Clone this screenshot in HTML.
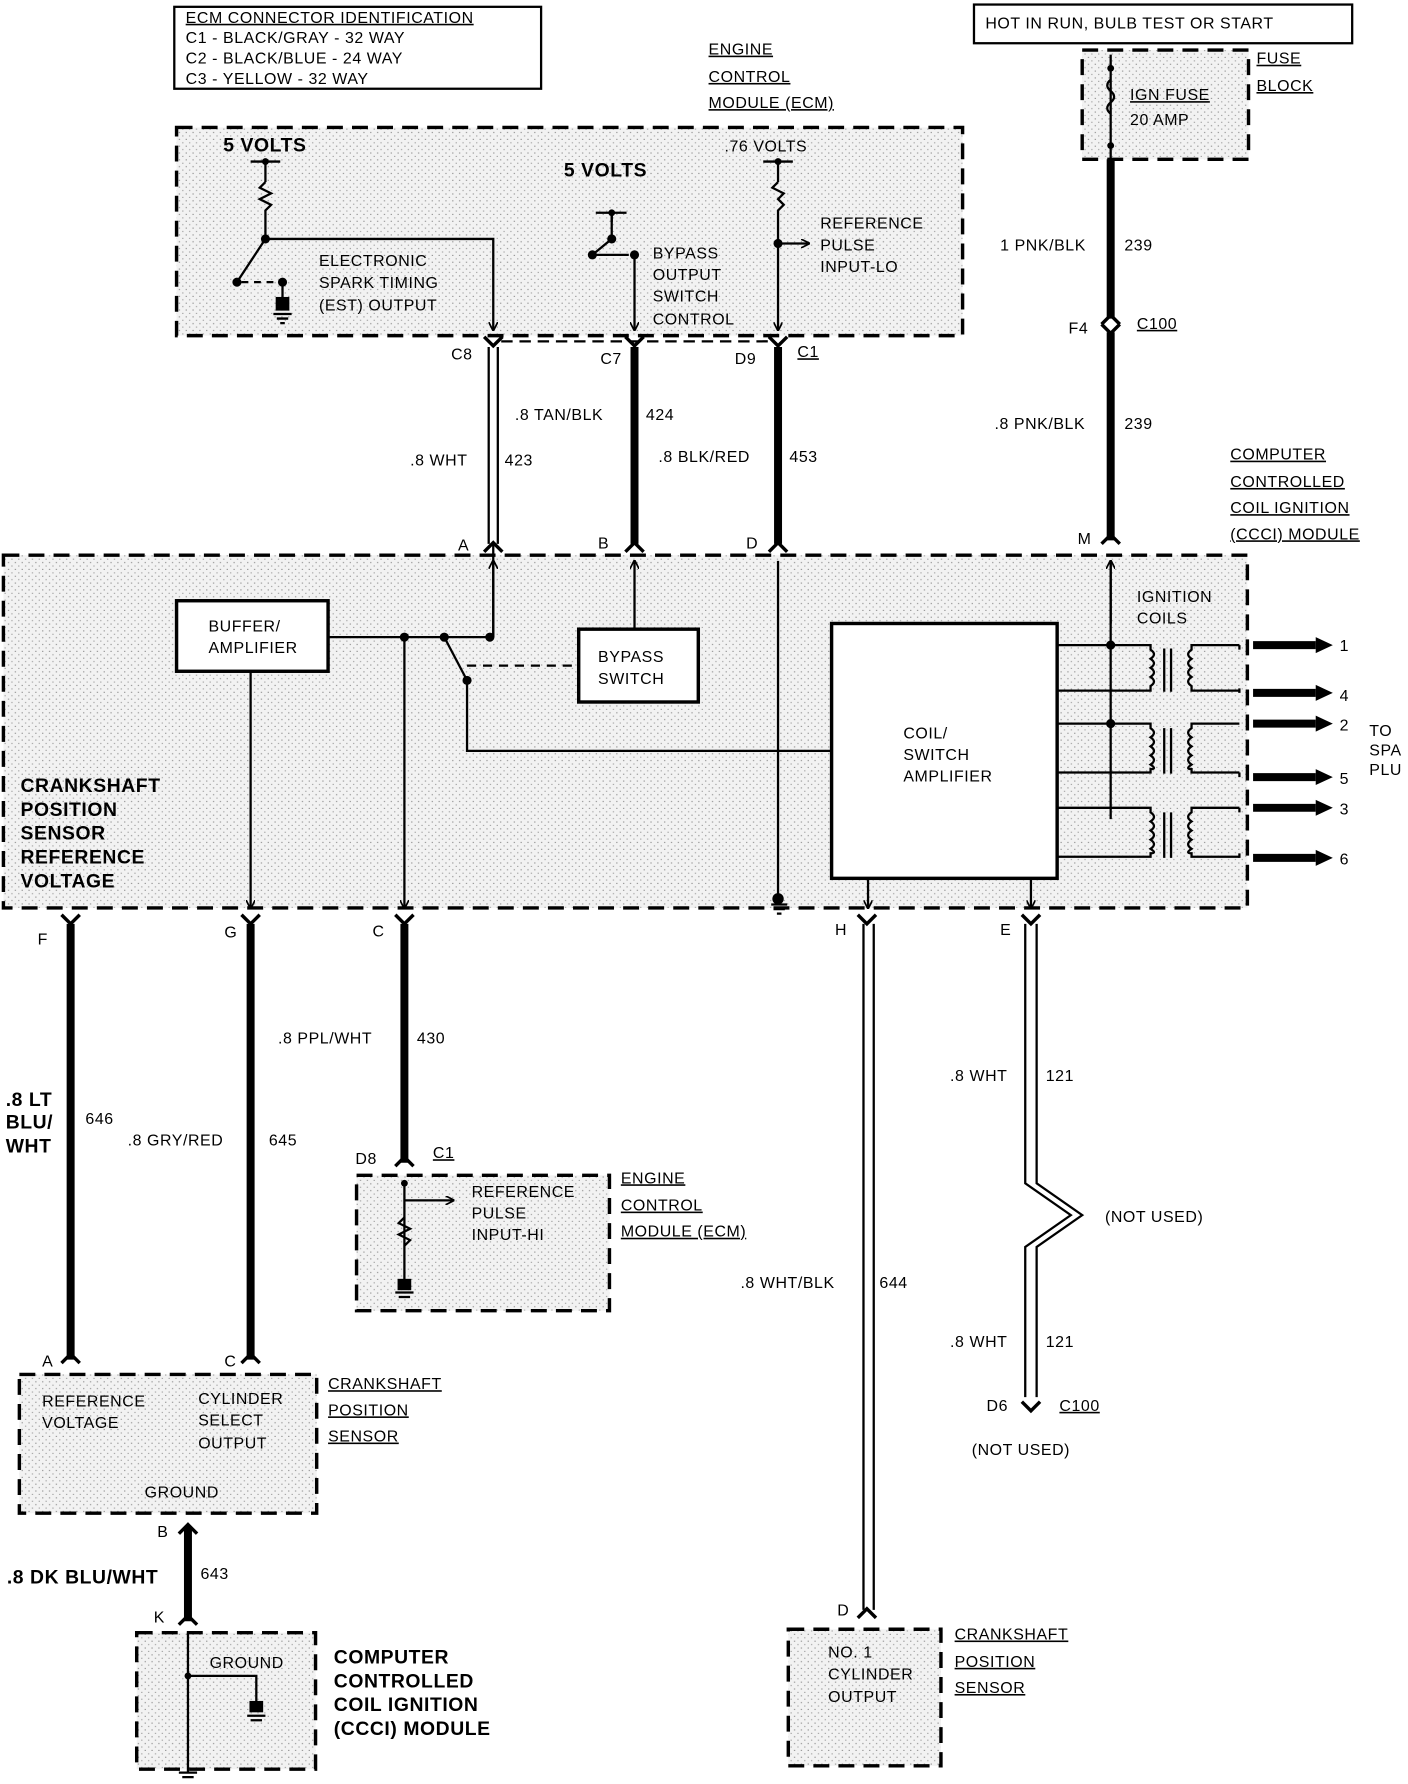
<!DOCTYPE html>
<html><head><meta charset="utf-8"><style>
html,body{margin:0;padding:0;background:#fff}
svg{display:block}
text{font-family:"Liberation Sans",sans-serif;font-size:14px;fill:#000;letter-spacing:0.5px}
.b{font-weight:bold;font-size:17px}
</style></head><body>
<svg width="1408" height="1784" viewBox="0 0 1236 1568" preserveAspectRatio="none" xmlns="http://www.w3.org/2000/svg">
<defs>
<pattern id="dots" width="6" height="6" patternUnits="userSpaceOnUse"><rect width="6" height="6" fill="#f2f2f2"/><rect x="1" y="2" width="1" height="1" fill="#888"/><rect x="4" y="5" width="1" height="1" fill="#999"/></pattern>
<marker id="ar" markerWidth="8" markerHeight="8" refX="7" refY="4" orient="auto" markerUnits="userSpaceOnUse" viewBox="0 0 8 8"><path d="M0,0 L8,4 L0,8" fill="none" stroke="#000" stroke-width="1.5"/></marker>
</defs>
<g stroke="#000" fill="none" stroke-width="2">
<rect x="153" y="6" width="322" height="72"/>
<rect x="855" y="4" width="332" height="34"/>
<rect x="155" y="112" width="690" height="183" fill="url(#dots)" stroke-dasharray="14,8" stroke-width="3"/>
<rect x="950" y="44" width="146" height="96" fill="url(#dots)" stroke-dasharray="14,8" stroke-width="3"/>
<rect x="3" y="488" width="1092" height="310" fill="url(#dots)" stroke-dasharray="14,8" stroke-width="3"/>
<rect x="313" y="1033" width="222" height="119" fill="url(#dots)" stroke-dasharray="14,8" stroke-width="3"/>
<rect x="17" y="1208" width="261" height="122" fill="url(#dots)" stroke-dasharray="14,8" stroke-width="3"/>
<rect x="120" y="1435" width="157" height="120" fill="url(#dots)" stroke-dasharray="14,8" stroke-width="3"/>
<rect x="692" y="1432" width="134" height="120" fill="url(#dots)" stroke-dasharray="14,8" stroke-width="3"/>
<rect x="155" y="528" width="133" height="62" fill="#fff" stroke-width="3"/>
<rect x="508" y="553" width="105" height="64" fill="#fff" stroke-width="3"/>
<rect x="730" y="548" width="198" height="224" fill="#fff" stroke-width="3"/>
<line x1="975" y1="48" x2="975" y2="140"/>
<path d="M975,70 q-6,5 0,10 q6,5 0,10 q-6,5 0,10"/>
<g stroke-width="7">
<line x1="975" y1="140" x2="975" y2="280"/><line x1="975" y1="292" x2="975" y2="475"/>
<line x1="557" y1="305" x2="557" y2="478"/>
<line x1="683" y1="305" x2="683" y2="478"/>
<line x1="62" y1="812" x2="62" y2="1195"/>
<line x1="220" y1="812" x2="220" y2="1195"/>
<line x1="355" y1="812" x2="355" y2="1022"/>
<line x1="165" y1="1342" x2="165" y2="1425"/>
</g>
<g stroke-width="2">
<line x1="429" y1="305" x2="429" y2="478"/><line x1="437" y1="305" x2="437" y2="478"/>
<line x1="758" y1="812" x2="758" y2="1415"/><line x1="767" y1="812" x2="767" y2="1415"/>
<path d="M900,812 V1040 L940,1068 L900,1096 V1228 M910,812 V1040 L950,1068 L910,1096 V1228"/>
</g>
<g stroke-width="3">
<path d="M425,296 l8,8 l8,-8 M425,485 l8,-8 l8,8 M549,296 l8,8 l8,-8 M549,485 l8,-8 l8,8 M675,296 l8,8 l8,-8 M675,485 l8,-8 l8,8 M967,285 l8,-8 l8,8 M967,285 l8,8 l8,-8 M967,478 l8,-8 l8,8"/>
<path d="M54,804 l8,8 l8,-8 M212,804 l8,8 l8,-8 M347,804 l8,8 l8,-8 M753,804 l8,8 l8,-8 M897,804 l8,8 l8,-8"/>
<path d="M54,1198 l8,-8 l8,8 M212,1198 l8,-8 l8,8 M347,1025 l8,-8 l8,8 M157,1348 l8,-8 l8,8 M157,1428 l8,-8 l8,8 M753,1422 l8,-8 l8,8 M897,1232 l8,8 l8,-8"/>
</g>
<line x1="440" y1="300" x2="675" y2="300" stroke-dasharray="10,6"/>
<line x1="220" y1="142" x2="246" y2="142"/><line x1="233" y1="142" x2="233" y2="160"/>
<path d="M233,160 l-5,5 l10,5 l-10,5 l10,5 l-5,5 V210"/>
<path d="M233,210 L208,248 M233,210 H433 V290" marker-end="url(#ar)"/>
<path d="M212,248 h30" stroke-dasharray="6,5"/><line x1="248" y1="248" x2="248" y2="272"/>
<rect x="243" y="262" width="10" height="10" fill="#000"/><path d="M240,276 h16 M243,280 h10 M246,284 h4"/>
<line x1="523" y1="187" x2="550" y2="187"/><line x1="537" y1="187" x2="537" y2="195"/>
<path d="M537,185 L537,210 L520,224 M522,224 h30" />
<path d="M557,226 V290" marker-end="url(#ar)"/>
<line x1="670" y1="142" x2="696" y2="142"/><line x1="683" y1="142" x2="683" y2="160"/>
<path d="M683,160 l-5,5 l10,5 l-5,5 l5,5 l-5,5 V290" marker-end="url(#ar)"/>
<path d="M683,214 H710" marker-end="url(#ar)"/>
<path d="M288,560 H390 M390,560 L430,560 M433,478 V560" />
<path d="M390,560 L410,598"/>
<path d="M410,585 H508" stroke-dasharray="8,6"/>
<path d="M557,553 V493" marker-end="url(#ar)"/>
<path d="M433,560 V493" marker-end="url(#ar)"/>
<path d="M683,493 V790"/>
<path d="M410,598 V660 H730"/>
<path d="M355,560 V798" marker-end="url(#ar)"/>
<path d="M220,590 V798" marker-end="url(#ar)"/>
<path d="M762,772 V798" marker-end="url(#ar)"/>
<path d="M905,772 V798" marker-end="url(#ar)"/>
<path d="M975,493 V720"/>
<path d="M975,548 V493" marker-end="url(#ar)"/>
<g>
<path d="M928,567 H1010 v4 q6,4 0,8 q6,4 0,8 q6,4 0,8 q6,4 0,8 v4 H928"/>
<path d="M928,636 H1010 v4 q6,4 0,8 q6,4 0,8 q6,4 0,8 q6,4 0,8 q6,4 0,4 v3 H928"/>
<path d="M928,710 H1010 v4 q6,4 0,8 q6,4 0,8 q6,4 0,8 q6,4 0,8 q6,4 0,4 v3 H928"/>
<path d="M1022,570 v38 M1028,570 v38 M1022,640 v40 M1028,640 v40 M1022,714 v40 M1028,714 v40"/>
<path d="M1088,567 H1046 v4 q-6,4 0,8 q-6,4 0,8 q-6,4 0,8 q-6,4 0,8 v4 H1088"/>
<path d="M1088,636 H1046 v4 q-6,4 0,8 q-6,4 0,8 q-6,4 0,8 q-6,4 0,8 q-6,4 0,4 v3 H1088"/>
<path d="M1088,710 H1046 v4 q-6,4 0,8 q-6,4 0,8 q-6,4 0,8 q-6,4 0,8 q-6,4 0,4 v3 H1088"/>
</g>
<path d="M1088,567 v4 M1088,609 v-4 M1088,683 v-4 M1088,710 v4 M1088,754 v-4"/>
<g stroke-width="7">
<line x1="1100" y1="567" x2="1155" y2="567"/><line x1="1100" y1="609" x2="1155" y2="609"/>
<line x1="1100" y1="636" x2="1155" y2="636"/><line x1="1100" y1="683" x2="1155" y2="683"/>
<line x1="1100" y1="710" x2="1155" y2="710"/><line x1="1100" y1="754" x2="1155" y2="754"/>
</g>
<path d="M355,1040 V1125"/><path d="M355,1055 H398" marker-end="url(#ar)"/>
<path d="M355,1070 l-5,5 l10,5 l-10,5 l10,5 l-5,5"/>
<rect x="350" y="1125" width="10" height="8" fill="#000"/><path d="M347,1136 h16 M350,1140 h10"/>
<path d="M165,1435 V1558 M165,1473 H225 V1498"/>
<rect x="220" y="1496" width="10" height="8" fill="#000"/><path d="M217,1508 h16 M220,1512 h10"/>
<path d="M157,1558 h16 M160,1562 h10"/>
<path d="M677,795 h14 M679,799 h10 M682,803 h4"/>
</g>
<g fill="#000">
<circle cx="233" cy="142" r="3"/><circle cx="233" cy="210" r="4"/><circle cx="208" cy="248" r="4"/><circle cx="248" cy="248" r="4"/>
<circle cx="537" cy="187" r="3"/><circle cx="520" cy="224" r="4"/><circle cx="557" cy="224" r="4"/><circle cx="537" cy="210" r="4"/>
<circle cx="683" cy="142" r="3"/><circle cx="683" cy="214" r="4"/>
<circle cx="355" cy="560" r="4"/><circle cx="390" cy="560" r="4"/><circle cx="430" cy="560" r="4"/><circle cx="410" cy="598" r="4"/>
<circle cx="975" cy="567" r="4"/><circle cx="975" cy="636" r="4"/><circle cx="683" cy="790" r="5"/>
<circle cx="975" cy="60" r="3"/><circle cx="975" cy="128" r="3"/>
<circle cx="355" cy="1040" r="3"/><circle cx="165" cy="1473" r="3"/>
<path d="M1155,560 l15,7 l-15,7z M1155,602 l15,7 l-15,7z M1155,629 l15,7 l-15,7z M1155,676 l15,7 l-15,7z M1155,703 l15,7 l-15,7z M1155,747 l15,7 l-15,7z"/>
</g>
<text x="163" y="20" text-decoration="underline">ECM CONNECTOR IDENTIFICATION</text>
<text x="163" y="38">C1 - BLACK/GRAY - 32 WAY</text>
<text x="163" y="56">C2 - BLACK/BLUE - 24 WAY</text>
<text x="163" y="74">C3 - YELLOW - 32 WAY</text>
<text x="622" y="48" text-decoration="underline">ENGINE</text>
<text x="622" y="72" text-decoration="underline">CONTROL</text>
<text x="622" y="95" text-decoration="underline">MODULE (ECM)</text>
<text x="865" y="25">HOT IN RUN, BULB TEST OR START</text>
<text x="1103" y="56" text-decoration="underline">FUSE</text>
<text x="1103" y="80" text-decoration="underline">BLOCK</text>
<text x="992" y="88" text-decoration="underline">IGN FUSE</text>
<text x="992" y="110">20 AMP</text>
<text class="b" x="196" y="133">5 VOLTS</text>
<text class="b" x="495" y="155">5 VOLTS</text>
<text x="636" y="133">.76 VOLTS</text>
<text x="280" y="234">ELECTRONIC</text><text x="280" y="253">SPARK TIMING</text><text x="280" y="273">(EST) OUTPUT</text>
<text x="573" y="227">BYPASS</text><text x="573" y="246">OUTPUT</text><text x="573" y="265">SWITCH</text><text x="573" y="285">CONTROL</text>
<text x="720" y="201">REFERENCE</text><text x="720" y="220">PULSE</text><text x="720" y="239">INPUT-LO</text>
<text x="396" y="316">C8</text><text x="527" y="320">C7</text><text x="645" y="320">D9</text><text x="700" y="314" text-decoration="underline">C1</text>
<text x="878" y="220">1 PNK/BLK</text><text x="987" y="220">239</text>
<text x="938" y="293">F4</text><text x="998" y="289" text-decoration="underline">C100</text>
<text x="873" y="377">.8 PNK/BLK</text><text x="987" y="377">239</text>
<text x="452" y="369">.8 TAN/BLK</text><text x="567" y="369">424</text>
<text x="360" y="409">.8 WHT</text><text x="443" y="409">423</text>
<text x="578" y="406">.8 BLK/RED</text><text x="693" y="406">453</text>
<text x="1080" y="404" text-decoration="underline">COMPUTER</text>
<text x="1080" y="428" text-decoration="underline">CONTROLLED</text>
<text x="1080" y="451" text-decoration="underline">COIL IGNITION</text>
<text x="1080" y="474" text-decoration="underline">(CCCI) MODULE</text>
<text x="402" y="484">A</text><text x="525" y="482">B</text><text x="655" y="482">D</text><text x="946" y="478">M</text>
<text x="183" y="555">BUFFER/</text><text x="183" y="574">AMPLIFIER</text>
<text x="525" y="582">BYPASS</text><text x="525" y="601">SWITCH</text>
<text x="998" y="529">IGNITION</text><text x="998" y="548">COILS</text>
<text x="793" y="649">COIL/</text><text x="793" y="668">SWITCH</text><text x="793" y="687">AMPLIFIER</text>
<text x="1176" y="572">1</text><text x="1176" y="616">4</text><text x="1176" y="642">2</text><text x="1176" y="689">5</text><text x="1176" y="716">3</text><text x="1176" y="760">6</text>
<text x="1202" y="647">TO</text><text x="1202" y="664">SPA</text><text x="1202" y="681">PLU</text>
<text class="b" x="18" y="696">CRANKSHAFT</text><text class="b" x="18" y="717">POSITION</text><text class="b" x="18" y="738">SENSOR</text><text class="b" x="18" y="759">REFERENCE</text><text class="b" x="18" y="780">VOLTAGE</text>
<text x="33" y="830">F</text><text x="197" y="824">G</text><text x="327" y="823">C</text><text x="733" y="822">H</text><text x="878" y="822">E</text>
<text x="244" y="917">.8 PPL/WHT</text><text x="366" y="917">430</text>
<text x="834" y="950">.8 WHT</text><text x="918" y="950">121</text>
<text class="b" x="5" y="972">.8 LT</text><text class="b" x="5" y="992">BLU/</text><text class="b" x="5" y="1013">WHT</text>
<text x="75" y="988">646</text>
<text x="112" y="1007">.8 GRY/RED</text><text x="236" y="1007">645</text>
<text x="312" y="1023">D8</text><text x="380" y="1018" text-decoration="underline">C1</text>
<text x="414" y="1052">REFERENCE</text><text x="414" y="1071">PULSE</text><text x="414" y="1090">INPUT-HI</text>
<text x="545" y="1040" text-decoration="underline">ENGINE</text><text x="545" y="1064" text-decoration="underline">CONTROL</text><text x="545" y="1087" text-decoration="underline">MODULE (ECM)</text>
<text x="970" y="1074">(NOT USED)</text>
<text x="650" y="1132">.8 WHT/BLK</text><text x="772" y="1132">644</text>
<text x="834" y="1184">.8 WHT</text><text x="918" y="1184">121</text>
<text x="37" y="1201">A</text><text x="197" y="1201">C</text>
<text x="866" y="1240">D6</text><text x="930" y="1240" text-decoration="underline">C100</text>
<text x="853" y="1279">(NOT USED)</text>
<text x="37" y="1236">REFERENCE</text><text x="37" y="1255">VOLTAGE</text>
<text x="174" y="1234">CYLINDER</text><text x="174" y="1253">SELECT</text><text x="174" y="1273">OUTPUT</text>
<text x="127" y="1316">GROUND</text>
<text x="288" y="1221" text-decoration="underline">CRANKSHAFT</text><text x="288" y="1244" text-decoration="underline">POSITION</text><text x="288" y="1267" text-decoration="underline">SENSOR</text>
<text x="138" y="1351">B</text>
<text class="b" x="6" y="1392">.8 DK BLU/WHT</text><text x="176" y="1388">643</text>
<text x="135" y="1426">K</text><text x="735" y="1420">D</text>
<text x="184" y="1466">GROUND</text>
<text class="b" x="293" y="1462">COMPUTER</text><text class="b" x="293" y="1483">CONTROLLED</text><text class="b" x="293" y="1504">COIL IGNITION</text><text class="b" x="293" y="1525">(CCCI) MODULE</text>
<text x="727" y="1457">NO. 1</text><text x="727" y="1476">CYLINDER</text><text x="727" y="1496">OUTPUT</text>
<text x="838" y="1441" text-decoration="underline">CRANKSHAFT</text><text x="838" y="1465" text-decoration="underline">POSITION</text><text x="838" y="1488" text-decoration="underline">SENSOR</text>
</svg>
</body></html>
